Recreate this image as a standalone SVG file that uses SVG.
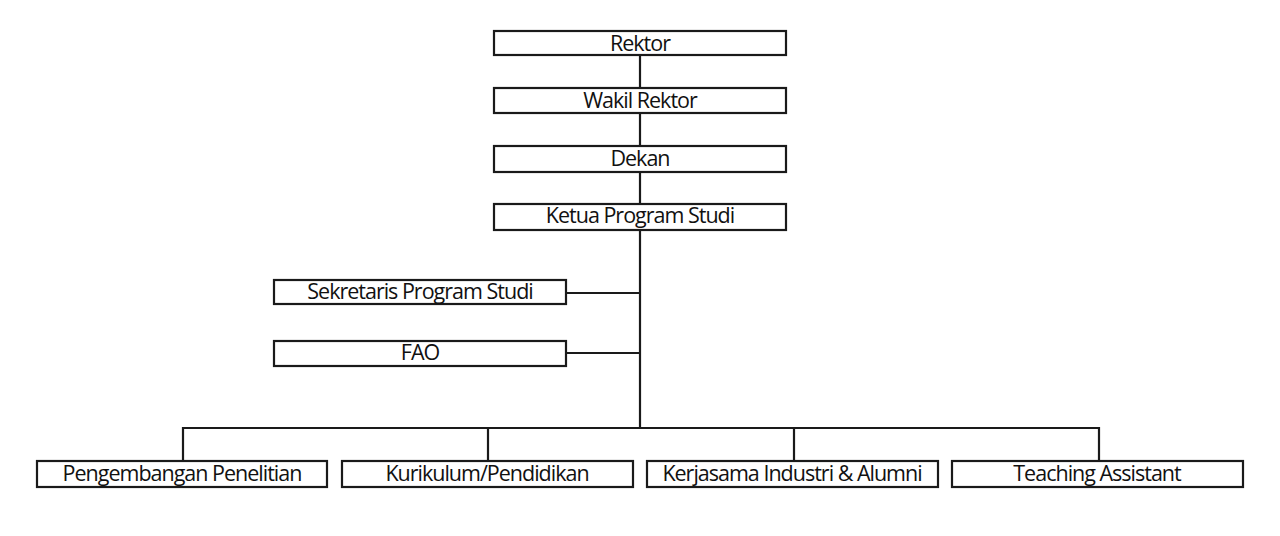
<svg xmlns="http://www.w3.org/2000/svg" width="1280" height="536" viewBox="0 0 1280 536">
<style>
.box{fill:#fff;stroke:#1a1a1a;stroke-width:2.2}
.lbl{font-family:"Open Sans","Liberation Sans",sans-serif;font-size:21.5px;fill:#111;text-anchor:middle;letter-spacing:-1px}
.con{fill:none;stroke:#1a1a1a;stroke-width:2.2}
</style>
<rect width="1280" height="536" fill="#fff"/>
<g id="connectors">
<line class="con" x1="640" y1="55" x2="640" y2="88"/>
<line class="con" x1="640" y1="113" x2="640" y2="146"/>
<line class="con" x1="640" y1="172" x2="640" y2="204"/>
<line class="con" x1="640" y1="230" x2="640" y2="429"/>
<line class="con" x1="566" y1="293" x2="640" y2="293"/>
<line class="con" x1="566" y1="353" x2="640" y2="353"/>
<polyline class="con" points="183,461 183,428 1099,428 1099,461"/>
<line class="con" x1="488" y1="428" x2="488" y2="461"/>
<line class="con" x1="794" y1="428" x2="794" y2="461"/>
</g>
<g id="rektor"><rect class="box" x="494" y="31" width="292" height="24"/><text class="lbl" x="640" y="51">Rektor</text></g>
<g id="wakil-rektor"><rect class="box" x="494" y="88" width="292" height="25"/><text class="lbl" x="640" y="108">Wakil Rektor</text></g>
<g id="dekan"><rect class="box" x="494" y="146" width="292" height="26"/><text class="lbl" x="640" y="166">Dekan</text></g>
<g id="ketua"><rect class="box" x="494" y="204" width="292" height="26"/><text class="lbl" x="640" y="223">Ketua Program Studi</text></g>
<g id="sekretaris"><rect class="box" x="274" y="280" width="292" height="24"/><text class="lbl" x="420" y="299">Sekretaris Program Studi</text></g>
<g id="fao"><rect class="box" x="274" y="341" width="292" height="25"/><text class="lbl" x="420" y="360">FAO</text></g>
<g id="pengembangan"><rect class="box" x="37" y="461" width="290" height="26"/><text class="lbl" x="182" y="481">Pengembangan Penelitian</text></g>
<g id="kurikulum"><rect class="box" x="342" y="461" width="291" height="26"/><text class="lbl" x="487" y="481">Kurikulum/Pendidikan</text></g>
<g id="kerjasama"><rect class="box" x="647" y="461" width="291" height="26"/><text class="lbl" x="792" y="481">Kerjasama Industri &amp; Alumni</text></g>
<g id="teaching"><rect class="box" x="952" y="461" width="291" height="26"/><text class="lbl" x="1097" y="481">Teaching Assistant</text></g>
</svg>
